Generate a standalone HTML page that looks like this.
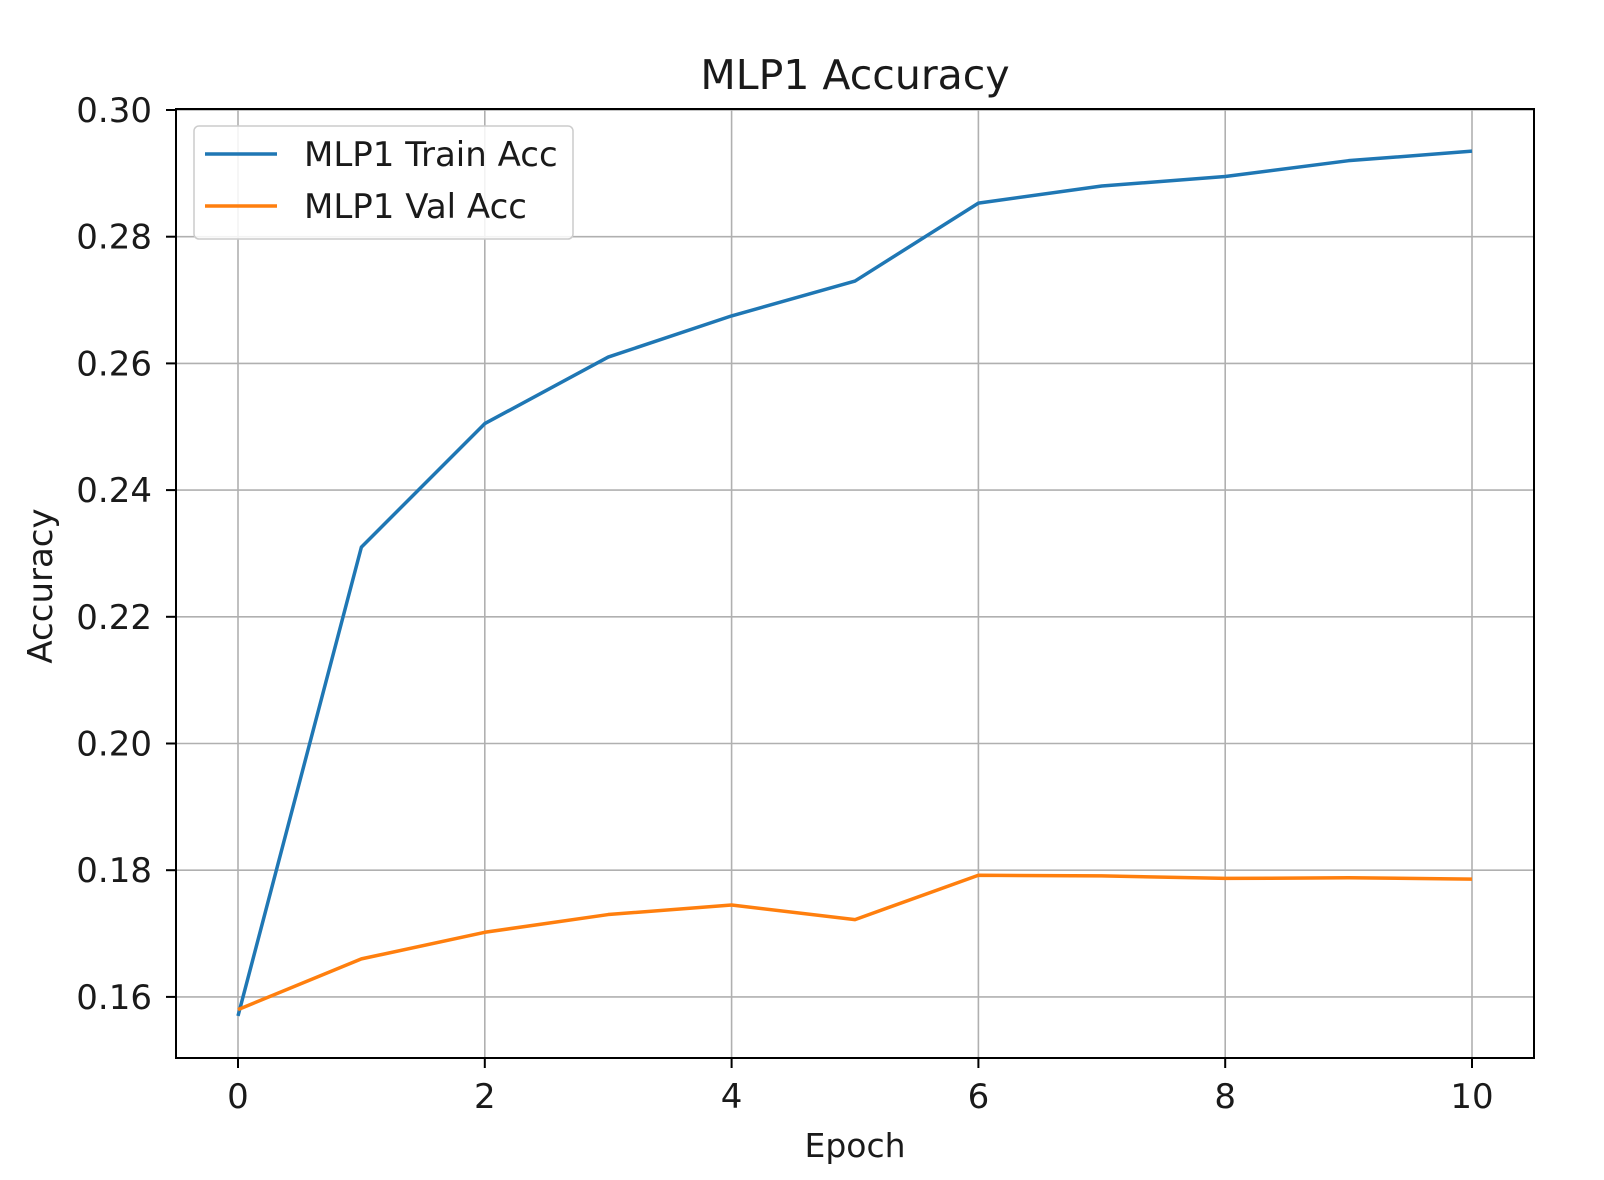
<!DOCTYPE html>
<html><head><meta charset="utf-8"><style>
body{margin:0;background:#fff;}
svg text{font-family:"DejaVu Sans","Liberation Sans",sans-serif;fill:#1a1a1a;}
</style></head><body>
<svg width="1604" height="1175" viewBox="0 0 1604 1175">
<g id="grid"></g>
<g id="ticks"></g>
<g id="series"></g>
<rect x="176" y="109" width="1358" height="949" fill="none" stroke="#000" stroke-width="2"/>
<text x="855" y="89" font-size="41" text-anchor="middle">MLP1 Accuracy</text>
<text x="855" y="1157" font-size="33" text-anchor="middle">Epoch</text>
<text transform="translate(52,586) rotate(-90)" font-size="34" text-anchor="middle">Accuracy</text>
<g>
<rect x="194" y="126" width="379" height="113" rx="5" fill="#fff" fill-opacity="0.85" stroke="#ccc" stroke-width="1.5"/>
<line x1="205" y1="154" x2="277" y2="154" stroke="#1f77b4" stroke-width="3.5"/>
<text x="304" y="166" font-size="34">MLP1 Train Acc</text>
<line x1="205" y1="206" x2="277" y2="206" stroke="#ff7f0e" stroke-width="3.5"/>
<text x="304" y="218" font-size="34">MLP1 Val Acc</text>
</g>
</svg>
<script>
const epochs=[0,1,2,3,4,5,6,7,8,9,10];
const trainAcc=[0.157,0.231,0.2505,0.261,0.2675,0.273,0.2853,0.288,0.2895,0.292,0.2935];
const valAcc=[0.158,0.166,0.1702,0.173,0.1745,0.1722,0.1792,0.1791,0.1787,0.1788,0.1786];
const xTicks=[0,2,4,6,8,10];
const yTicks=[0.16,0.18,0.20,0.22,0.24,0.26,0.28,0.30];
const NS="http://www.w3.org/2000/svg";
function xs(v){return 238+v*123.4;}
function ys(v){return 110+(0.30-v)/0.02*126.7;}
function mk(tag,attrs,parent){const e=document.createElementNS(NS,tag);for(const k in attrs)e.setAttribute(k,attrs[k]);parent.appendChild(e);return e;}
const grid=document.getElementById('grid'),ticks=document.getElementById('ticks'),series=document.getElementById('series');
xTicks.forEach(t=>{
 const g=mk('line',{x1:xs(t),x2:xs(t),y1:109,y2:1058,stroke:'#b0b0b0','stroke-width':1.6},grid);
 
 
 const tk=mk('line',{x1:xs(t),x2:xs(t),y1:1058,y2:1068,stroke:'#000','stroke-width':2},ticks);
 
 
 const lb=mk('text',{x:xs(t),y:1108,'font-size':34,'text-anchor':'middle'},ticks);
 lb.textContent=String(t);
 
 
});
yTicks.forEach(t=>{
 const g=mk('line',{x1:176,x2:1534,y1:ys(t),y2:ys(t),stroke:'#b0b0b0','stroke-width':1.6},grid);
 
 
 const tk=mk('line',{x1:166,x2:176,y1:ys(t),y2:ys(t),stroke:'#000','stroke-width':2},ticks);
 
 
 const lb=mk('text',{x:152,y:ys(t)+12,'font-size':34,'text-anchor':'end'},ticks);
 lb.textContent=t.toFixed(2);
 
 
});
function line(data,color,name){
 const p=mk('polyline',{points:data.map((v,i)=>xs(epochs[i])+','+ys(v)).join(' '),fill:'none',stroke:color,'stroke-width':3.5,'stroke-linejoin':'round'},series);
 
 
}
line(trainAcc,'#1f77b4','train-acc-line');
line(valAcc,'#ff7f0e','val-acc-line');
</script>
</body></html>
